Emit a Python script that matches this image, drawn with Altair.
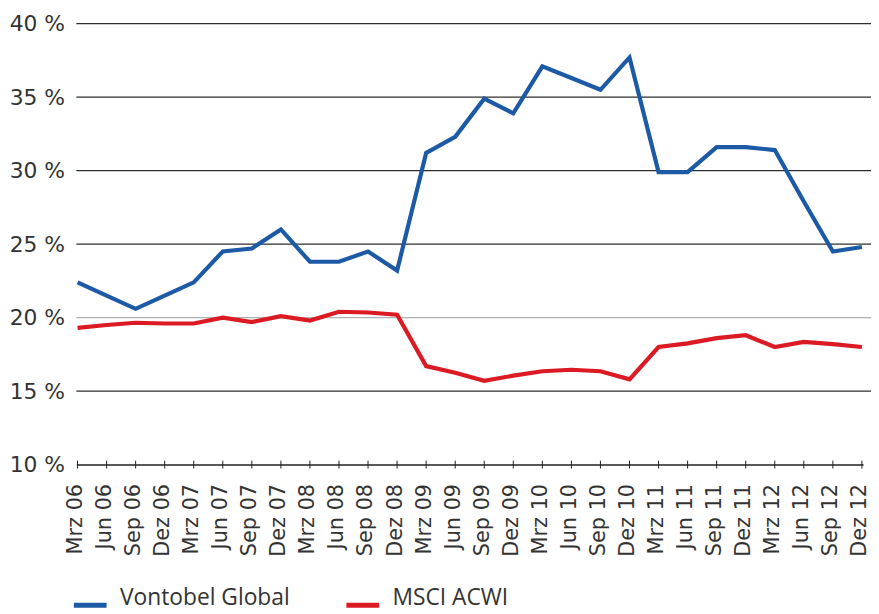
import altair as alt
import pandas as pd

months = ["Mrz 06", "Jun 06", "Sep 06", "Dez 06",
          "Mrz 07", "Jun 07", "Sep 07", "Dez 07",
          "Mrz 08", "Jun 08", "Sep 08", "Dez 08",
          "Mrz 09", "Jun 09", "Sep 09", "Dez 09",
          "Mrz 10", "Jun 10", "Sep 10", "Dez 10",
          "Mrz 11", "Jun 11", "Sep 11", "Dez 11",
          "Mrz 12", "Jun 12", "Sep 12", "Dez 12"]

vontobel = [22.4, 21.5, 20.6, 21.5, 22.4, 24.5, 24.7, 26.0,
            23.8, 23.8, 24.5, 23.2, 31.2, 32.3, 34.9, 33.9,
            37.1, 36.3, 35.5, 37.7, 29.9, 29.9, 31.6, 31.6,
            31.4, 27.9, 24.5, 24.8]

msci = [19.3, 19.5, 19.65, 19.6, 19.6, 20.0, 19.7, 20.1,
        19.8, 20.4, 20.35, 20.2, 16.7, 16.25, 15.7, 16.05,
        16.35, 16.45, 16.35, 15.8, 18.0, 18.25, 18.6, 18.8,
        18.0, 18.35, 18.2, 18.0]

series_names = ["Vontobel Global", "MSCI ACWI"]
series_colors = ["#1c5aa6", "#dc1a24"]

dark_grid = [40, 35, 30, 25, 15]
light_grid = [20]
y_ticks = [10, 15, 20, 25, 30, 35, 40]

W, H = 794, 445
AX_FONT = "DejaVu Sans"
LEG_FONT = "Open Sans"
TXT = "#333333"

rows = []
for name, vals in zip(series_names, [vontobel, msci]):
    for m, v in zip(months, vals):
        rows.append({"month": m, "value": v, "series": name})
df = pd.DataFrame(rows)

dark_df = pd.DataFrame({"y": dark_grid})
light_df = pd.DataFrame({"y": light_grid})
tick_df = pd.DataFrame({"month": months})

x_axis = alt.Axis(title=None, labelAngle=270, labelFontSize=21,
                  labelFont=AX_FONT, labelColor=TXT, labelOffset=-2,
                  labelPadding=19, ticks=False, domain=True,
                  domainColor="#222222", domainWidth=1.5, grid=False)
x_scale = alt.Scale(type="point", padding=0.04)

y_axis = alt.Axis(title=None, values=y_ticks,
                  labelExpr="datum.value + ' %'", labelFontSize=22,
                  labelFont=AX_FONT, labelColor=TXT,
                  labelPadding=12, ticks=False, domain=False, grid=False)
y_scale = alt.Scale(domain=[10, 40], nice=False, zero=False)

grid_dark = alt.Chart(dark_df).mark_rule(strokeWidth=1.4, color="#2e2e2e").encode(
    y=alt.Y("y:Q", scale=y_scale, axis=y_axis),
    x=alt.value(0), x2=alt.value(W + 8),
)
grid_light = alt.Chart(light_df).mark_rule(strokeWidth=1.4, color="#b0b0b0").encode(
    y=alt.Y("y:Q", scale=y_scale, axis=y_axis),
    x=alt.value(0), x2=alt.value(W + 8),
)

ticks = alt.Chart(tick_df).mark_rule(color="#222222", strokeWidth=1).encode(
    x=alt.X("month:N", sort=months, scale=x_scale, axis=x_axis),
    y=alt.value(H - 4), y2=alt.value(H + 4),
)

lines = alt.Chart(df).mark_line(strokeWidth=4.2, strokeJoin="miter").encode(
    x=alt.X("month:N", sort=months, scale=x_scale, axis=x_axis),
    y=alt.Y("value:Q", scale=y_scale, axis=y_axis),
    color=alt.Color("series:N",
                    scale=alt.Scale(domain=series_names, range=series_colors),
                    legend=alt.Legend(title=None, orient="none", direction="horizontal",
                                      legendX=-5, legendY=568,
                                      symbolType="stroke", symbolStrokeWidth=5,
                                      symbolSize=1089, labelFontSize=23,
                                      labelFont=LEG_FONT, labelColor=TXT,
                                      labelBaseline="alphabetic",
                                      labelOffset=11, columnPadding=46,
                                      labelLimit=400, padding=0)),
)

chart = alt.layer(grid_dark, grid_light, ticks, lines).properties(
    width=W, height=H,
    autosize=alt.AutoSizeParams(type="none"),
    padding={"left": 69, "top": 13, "right": 8, "bottom": 148},
).configure_view(stroke=None)

chart.save("out.html", embed_options={"renderer": "svg", "actions": False})
